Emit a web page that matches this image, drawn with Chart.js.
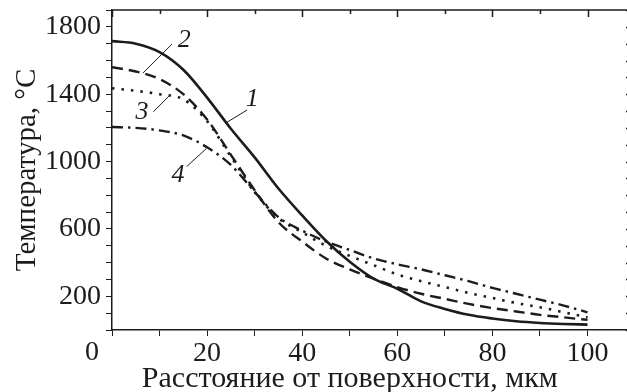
<!DOCTYPE html>
<html lang="ru">
<head>
<meta charset="utf-8">
<title>Температура</title>
<script src="https://cdn.jsdelivr.net/npm/chart.js@4/dist/chart.umd.min.js"></script>
<style>
  html, body { margin: 0; padding: 0; background: #fff; overflow: hidden; }
  #container { position: relative; width: 627px; height: 392px; }
</style>
</head>
<body>
<div id="container"><canvas id="chart"></canvas></div>
<script>
'use strict';

// distance from the surface, um
const distance = [0, 5, 10, 15, 20, 25, 30, 35, 40, 45, 50, 55, 60, 65, 70, 75, 80, 85, 90, 95, 100];

// temperature profiles, deg C
const temp1 = [1715, 1700, 1650, 1545, 1380, 1195, 1025, 840, 680, 530, 405, 305, 245, 170, 125, 90, 68, 52, 42, 36, 32];
const temp2 = [1560, 1535, 1490, 1400, 1250, 1040, 830, 640, 525, 425, 360, 305, 255, 215, 185, 155, 130, 110, 90, 75, 60];
const temp3 = [1435, 1420, 1400, 1370, 1240, 1030, 820, 665, 580, 500, 440, 385, 330, 290, 255, 220, 190, 160, 135, 105, 75];
const temp4 = [1205, 1200, 1185, 1155, 1085, 980, 820, 670, 590, 525, 475, 425, 390, 360, 325, 290, 250, 215, 180, 145, 105];

const curveNames = ['1', '2', '3', '4'];

// which ticks get a number
const xTickLabels = [20, 40, 60, 80, 100];
const yTickLabels = [200, 600, 1000, 1400, 1800];

const X_TITLE = 'Расстояние от поверхности, мкм';
const Y_TITLE = 'Температура, °C';

const FONT = "'Liberation Serif', 'Times New Roman', serif";
const INK = '#1c1c1c';

// curve numbers with their leader lines, in data units
const curveTags = [
  { text: '1', at: [29.5, 1371], from: [28.4, 1306], to: [23.8, 1227] },
  { text: '2', at: [15.2, 1721], from: [12.6, 1697], to: [6.5, 1525] },
  { text: '3', at: [6.3, 1294], from: [8.7, 1296], to: [12.2, 1395] },
  { text: '4', at: [13.9, 921], from: [15.7, 970], to: [19.9, 1079] }
];

function makeSeries(values) {
  let points = [];
  for (let i = 0; i < distance.length; i++) {
    points.push({ x: distance[i], y: values[i] });
  }
  return points;
}

// top frame, inward ticks on top and right, corner zero, x title, curve numbers
const frameExtras = {
  id: 'frameExtras',
  afterDraw(chart) {
    const ctx = chart.ctx;
    const area = chart.chartArea;
    const xs = chart.scales.x;
    const ys = chart.scales.y;

    ctx.save();
    ctx.strokeStyle = INK;
    ctx.lineWidth = 1.5;
    ctx.beginPath();
    ctx.moveTo(area.left, area.top);
    ctx.lineTo(area.right + 2, area.top);

    xs.ticks.forEach(function (t) {
      let px = Math.round(xs.getPixelForValue(t.value)) + 0.5;
      let len = t.value % 20 === 0 ? 7 : 4;
      ctx.moveTo(px, area.top);
      ctx.lineTo(px, area.top + len);
    });
    // right side: only the tick stubs, the edge itself sits just past the canvas
    ys.ticks.forEach(function (t) {
      let py = Math.round(ys.getPixelForValue(t.value)) + 0.5;
      ctx.moveTo(area.right + 2, py);
      ctx.lineTo(area.right - 1, py);
    });
    ctx.stroke();

    // shared zero in the corner
    ctx.fillStyle = INK;
    ctx.font = '28px ' + FONT;
    ctx.textAlign = 'center';
    ctx.textBaseline = 'top';
    ctx.fillText('0', xs.getPixelForValue(0) - 20, area.bottom + 9);

    // x title, centred under the data span
    ctx.font = '30px ' + FONT;
    ctx.textBaseline = 'alphabetic';
    ctx.fillText(X_TITLE, xs.getPixelForValue(50), area.bottom + 57);

    // numbered leaders
    ctx.lineWidth = 1;
    ctx.font = 'italic 26px ' + FONT;
    ctx.textBaseline = 'middle';
    curveTags.forEach(function (tag) {
      ctx.beginPath();
      ctx.moveTo(xs.getPixelForValue(tag.from[0]), ys.getPixelForValue(tag.from[1]));
      ctx.lineTo(xs.getPixelForValue(tag.to[0]), ys.getPixelForValue(tag.to[1]));
      ctx.stroke();
      ctx.fillText(tag.text, xs.getPixelForValue(tag.at[0]), ys.getPixelForValue(tag.at[1]));
    });
    ctx.restore();
  }
};

function renderChart() {
  const ctx = document.getElementById('chart').getContext('2d');

  let lineStyles = [
    { dash: [], width: 2.6 },
    { dash: [11, 6], width: 2.4 },
    { dash: [2.5, 7], width: 2.6 },
    { dash: [11, 5, 2.5, 5], width: 2.4 }
  ];
  let allTemps = [temp1, temp2, temp3, temp4];

  let datasets = [];
  for (let i = 0; i < allTemps.length; i++) {
    datasets.push({
      label: curveNames[i],
      data: makeSeries(allTemps[i]),
      borderColor: INK,
      borderWidth: lineStyles[i].width,
      borderDash: lineStyles[i].dash,
      borderCapStyle: 'butt',
      pointRadius: 0,
      fill: false,
      cubicInterpolationMode: 'monotone'
    });
  }

  let myChart = new Chart(ctx, {
    type: 'line',
    data: { datasets: datasets },
    options: {
      responsive: true,
      maintainAspectRatio: false,
      animation: false,
      layout: { padding: { top: 10, right: 0, left: 0, bottom: 0 } },
      plugins: {
        legend: { display: false },
        tooltip: { enabled: false }
      },
      scales: {
        x: {
          type: 'linear',
          min: 0,
          max: 108.3,
          afterBuildTicks: function (scale) {
            scale.ticks = scale.ticks.filter(function (t) { return t.value <= 100; });
          },
          afterFit: function (scale) {
            scale.height = 62;
            scale.paddingLeft = 0;
            scale.paddingRight = 0;
          },
          border: { display: true, color: INK, width: 1.5 },
          grid: { drawOnChartArea: false, drawTicks: true, tickLength: 6, color: INK, tickColor: INK },
          ticks: {
            stepSize: 10,
            includeBounds: false,
            autoSkip: false,
            maxRotation: 0,
            padding: 1,
            color: INK,
            font: { family: FONT, size: 28 },
            callback: function (v) { return xTickLabels.includes(v) ? String(v) : ''; }
          }
        },
        y: {
          type: 'linear',
          min: 0,
          max: 1900,
          afterFit: function (scale) {
            scale.width = 112;
            scale.paddingTop = 0;
            scale.paddingBottom = 0;
          },
          border: { display: true, color: INK, width: 1.5 },
          grid: { drawOnChartArea: false, drawTicks: true, tickLength: 6, color: INK, tickColor: INK },
          ticks: {
            stepSize: 100,
            autoSkip: false,
            padding: 5,
            color: INK,
            font: { family: FONT, size: 28 },
            callback: function (v) { return yTickLabels.includes(v) ? String(v) : ''; }
          },
          title: {
            display: true,
            text: Y_TITLE,
            color: INK,
            font: { family: FONT, size: 29 },
            padding: { top: 10, bottom: 0 }
          }
        }
      }
    },
    plugins: [frameExtras]
  });
}

renderChart();
</script>
</body>
</html>
